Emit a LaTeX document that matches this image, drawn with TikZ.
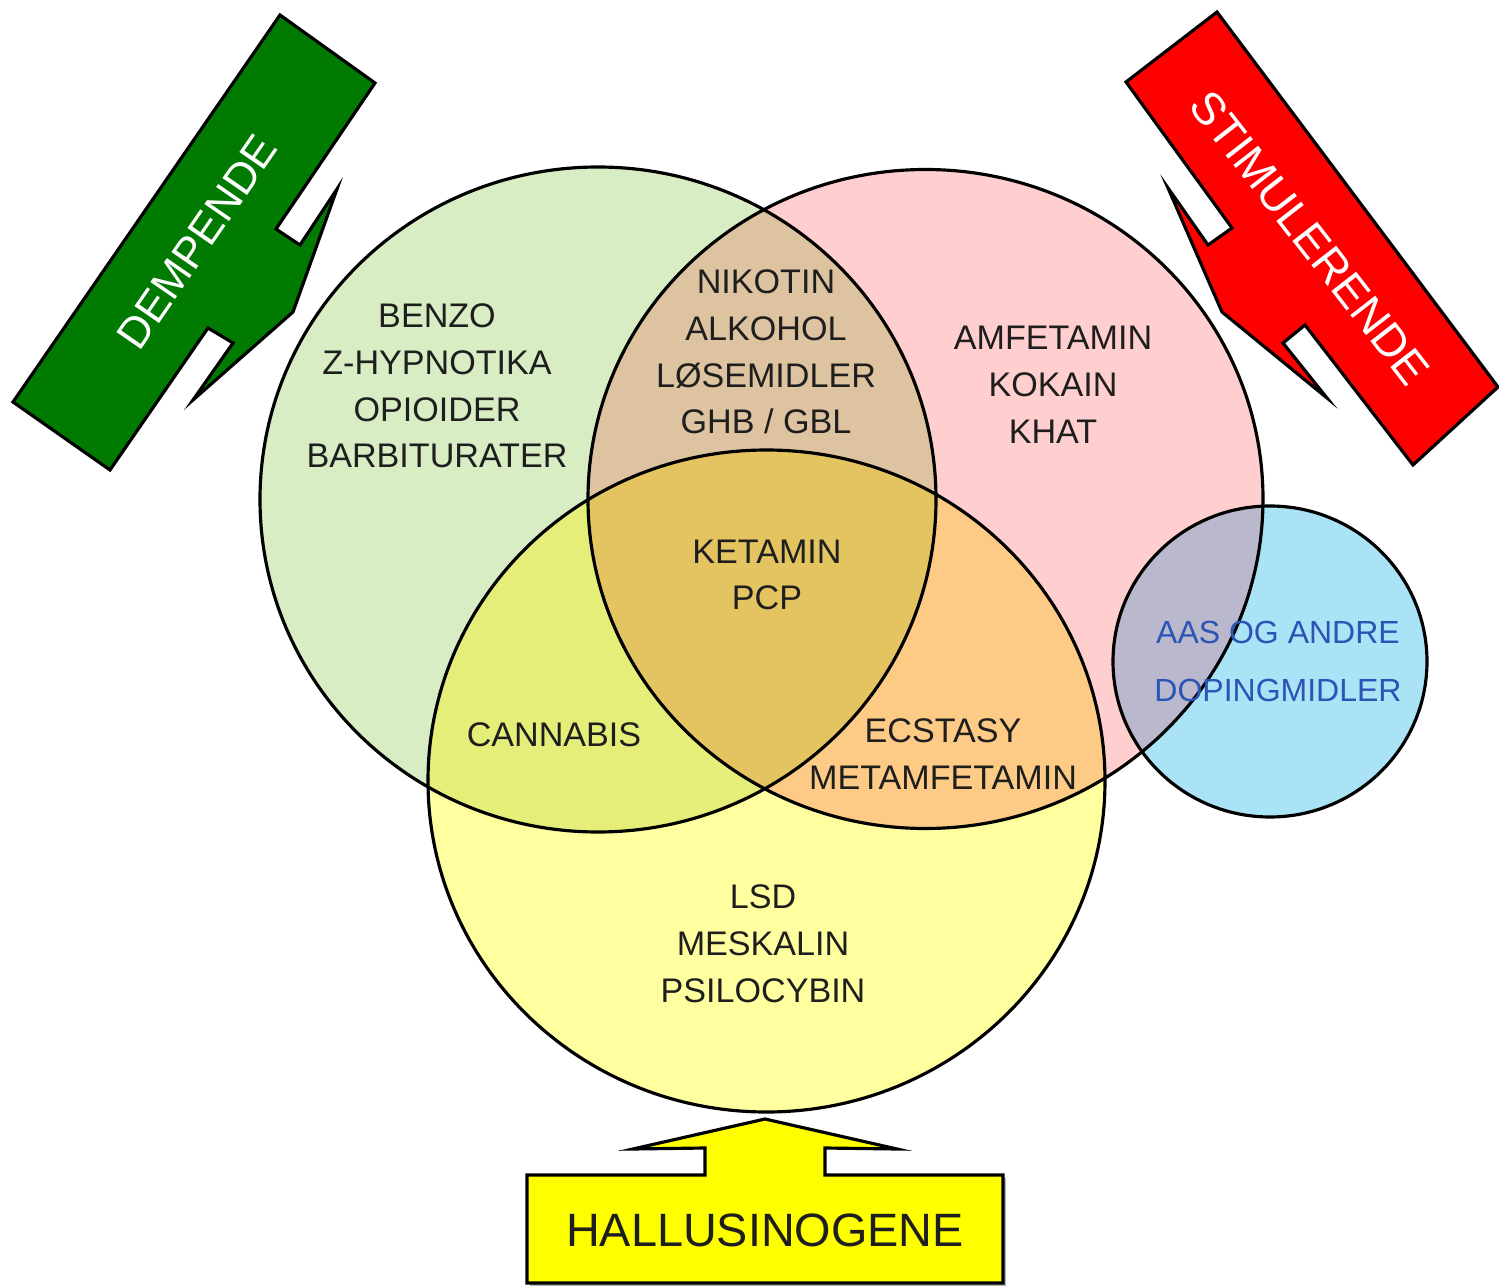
\documentclass[tikz,border=0pt]{standalone}
\usepackage{fontspec}
\setmainfont{Liberation Sans}
\definecolor{cG}{HTML}{D8EDC4}
\definecolor{cP}{HTML}{FFCFCF}
\definecolor{cY}{HTML}{FFFFA0}
\definecolor{cB}{HTML}{AAE2F6}
\definecolor{cGP}{HTML}{DEC3A0}
\definecolor{cGY}{HTML}{E4EE78}
\definecolor{cPY}{HTML}{FDCB85}
\definecolor{cGPY}{HTML}{E4C460}
\definecolor{cPB}{HTML}{B9B8CC}
\definecolor{txt}{HTML}{1E1E1E}
\definecolor{btxt}{HTML}{2A55B5}
\definecolor{agreen}{HTML}{007A00}
\definecolor{ared}{HTML}{FF0000}
\definecolor{ayellow}{HTML}{FFFF00}
\def\Gc{(598,499.5) ellipse [x radius=338, y radius=332.5]}
\def\Pc{(925.5,499) ellipse [x radius=337.5, y radius=329.5]}
\def\Yc{(766.5,781) ellipse [x radius=338.5, y radius=331]}
\def\Bc{(1270,661.5) ellipse [x radius=157, y radius=155.5]}
\tikzset{
  outline/.style={draw=black, line width=0.9pt},
  arrowshape/.style={draw=black, line width=0.9pt, line join=miter},
  lbl/.style={text=txt, align=center, inner sep=0pt, font=\fontsize{9.7}{13.3}\selectfont},
  blbl/.style={text=btxt, align=center, inner sep=0pt, font=\fontsize{9.1}{16.5}\selectfont},
  arrtext/.style={text=white, inner sep=0pt, font=\fontsize{12.4}{14}\selectfont}
}
\begin{document}
\begin{tikzpicture}[x=0.01cm, y=-0.01cm]
\useasboundingbox (0,0) rectangle (1499,1288);
% base fills
\fill[cG] \Gc;
\fill[cP] \Pc;
\fill[cY] \Yc;
\fill[cB] \Bc;
% overlaps
\begin{scope}\clip \Gc; \fill[cGP] \Pc; \end{scope}
\begin{scope}\clip \Gc; \fill[cGY] \Yc; \end{scope}
\begin{scope}\clip \Pc; \fill[cPY] \Yc; \end{scope}
\begin{scope}\clip \Gc; \clip \Pc; \fill[cGPY] \Yc; \end{scope}
\begin{scope}\clip \Pc; \fill[cPB] \Bc; \end{scope}
% outlines
\draw[outline] \Gc;
\draw[outline] \Pc;
\draw[outline] \Yc;
\draw[outline] \Bc;

% green arrow (DEMPENDE)
\draw[arrowshape, fill=agreen] (280,15) -- (375,83) -- (276,229) -- (300,245) -- (337,189)
  -- (293,312) -- (193,400) -- (233,343) -- (208,328) -- (110,470) -- (13,402) -- cycle;
\node[arrtext, rotate=55.4] (dempende) at (197,242) {DEMPENDE};

% red arrow (STIMULERENDE)
\draw[arrowshape, fill=ared] (1217,12) -- (1126,82) -- (1232,228) -- (1208,245) -- (1168,188)
  -- (1222,312) -- (1327,398) -- (1283,343) -- (1305,325) -- (1413,465) -- (1498,387) -- cycle;
\node[arrtext, rotate=-52.1, font=\fontsize{13}{14}\selectfont] (stimulerende) at (1310,238) {STIMULERENDE};

% yellow arrow (HALLUSINOGENE)
\fill[black!30] (530,1178) rectangle (1006,1286);
\draw[arrowshape, fill=ayellow] (765,1119) -- (897,1149) -- (825,1148) -- (825,1175) -- (1003,1175)
  -- (1003,1283) -- (527,1283) -- (527,1175) -- (705,1175) -- (705,1148) -- (633,1149) -- cycle;
\node[text=txt, inner sep=0pt, font=\fontsize{13.3}{15}\selectfont] (hallu) at (765,1230) {HALLUSINOGENE};

% texts
\node[lbl] (dep) at (437,386) {BENZO\\Z-HYPNOTIKA\\OPIOIDER\\BARBITURATER};
\node[lbl] (depstim) at (766,352) {NIKOTIN\\ALKOHOL\\LØSEMIDLER\\GHB / GBL};
\node[lbl] (stim) at (1053,385) {AMFETAMIN\\KOKAIN\\KHAT};
\node[lbl] (all) at (767,575) {KETAMIN\\PCP};
\node[lbl] (cann) at (554,735) {CANNABIS};
\node[lbl] (ecst) at (943,754) {ECSTASY\\METAMFETAMIN};
\node[lbl] (hal) at (763,944) {LSD\\MESKALIN\\PSILOCYBIN};
\node[blbl] (aas) at (1278,661) {AAS OG ANDRE\\DOPINGMIDLER};
\end{tikzpicture}
\end{document}
